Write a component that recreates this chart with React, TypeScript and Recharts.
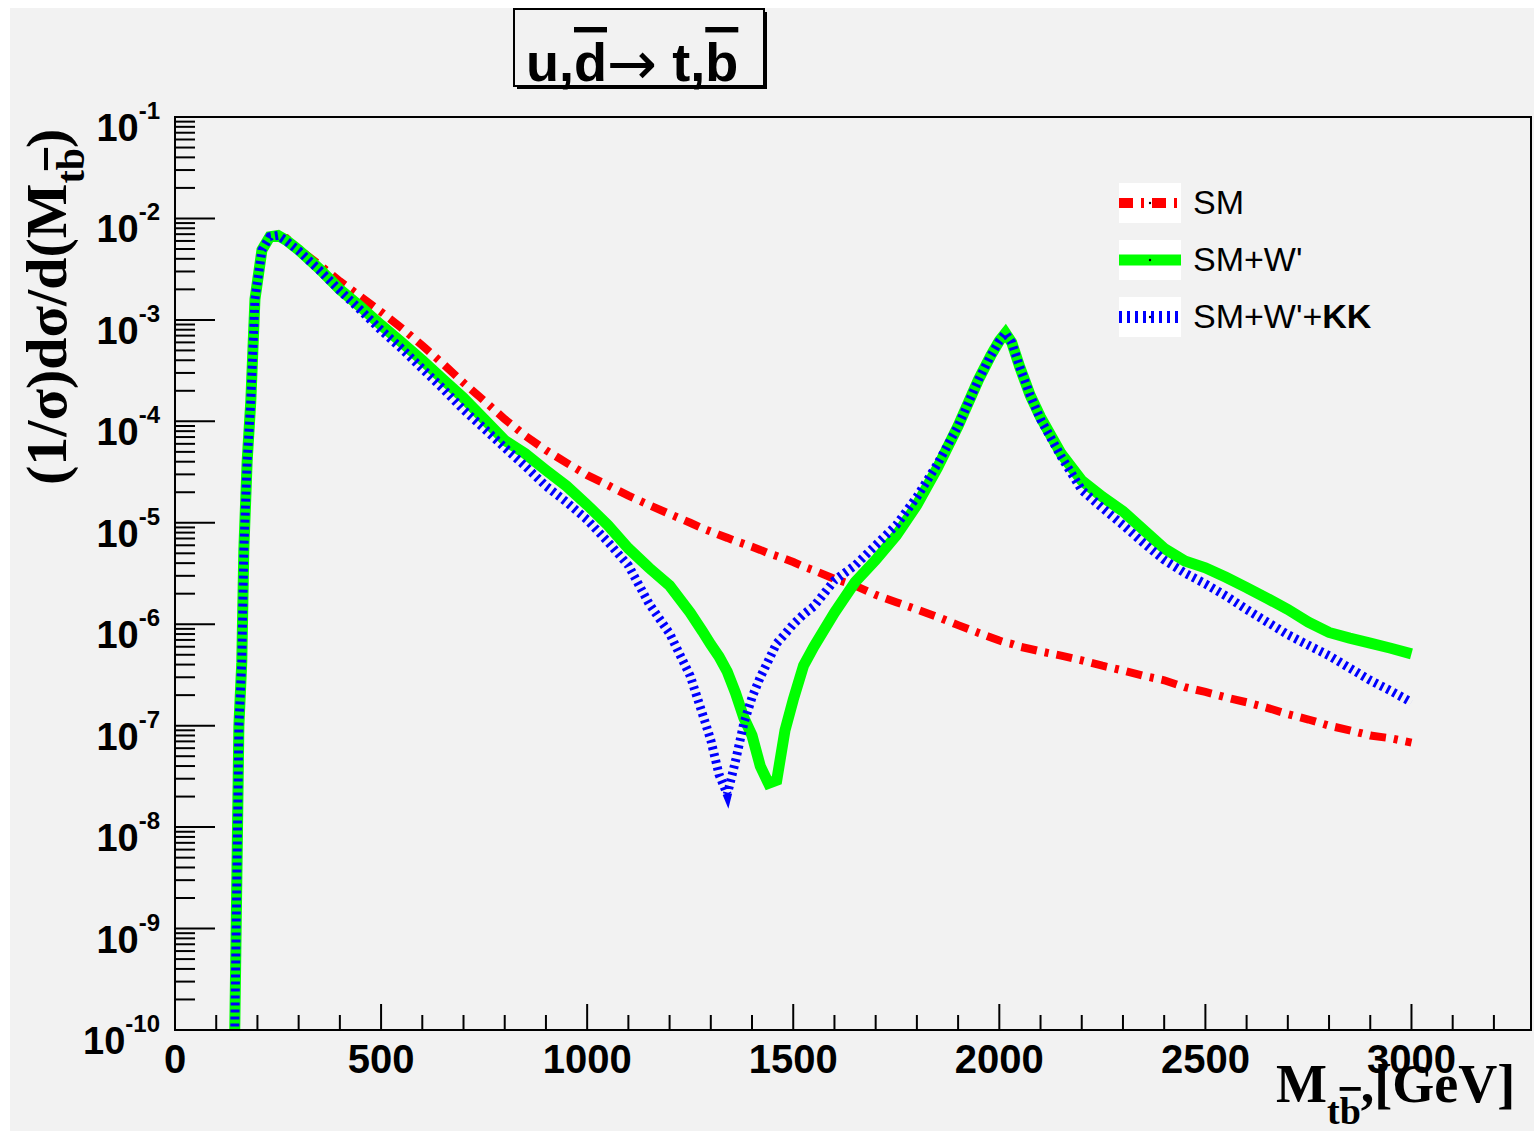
import React from 'react';
import { LineChart, Line, XAxis, YAxis, Legend, ReferenceArea } from 'recharts';

// invariant mass of the t b-bar pair, GeV
const masses = [
  140, 145, 150, 155, 162, 167, 175, 184, 194, 211,
  230, 250, 270, 300, 350, 400, 450, 500, 550, 600,
  650, 700, 750, 800, 850, 900, 950, 1000, 1050, 1100,
  1150, 1200, 1250, 1280, 1300, 1320, 1340, 1360, 1380, 1400,
  1420, 1440, 1460, 1480, 1500, 1525, 1550, 1600, 1650, 1700,
  1750, 1800, 1850, 1900, 1950, 1980, 2000, 2015, 2030, 2050,
  2075, 2100, 2150, 2200, 2250, 2300, 2350, 2400, 2450, 2500,
  2550, 2600, 2650, 2700, 2750, 2800, 2850, 2900, 2950, 3000,
];

const smValues = [
  1e-11, 1e-10, 3e-9, 1.0e-7, 4.2e-7, 5.4e-6, 4e-5, 1.6e-4, 1.6e-3, 4.9e-3,
  6.3e-3, 6.6e-3, 6.4e-3, 5.0e-3, 3.5e-3, 2.4e-3, 1.7e-3, 1.2e-3, 8.3e-4, 5.6e-4,
  3.7e-4, 2.4e-4, 1.6e-4, 1.05e-4, 7.2e-5, 5.2e-5, 3.9e-5, 2.95e-5, 2.35e-5, 1.85e-5,
  1.5e-5, 1.22e-5, 1.0e-5, 8.8e-6, 8.2e-6, 7.6e-6, 7.1e-6, 6.6e-6, 6.2e-6, 5.8e-6,
  5.4e-6, 5.0e-6, 4.7e-6, 4.4e-6, 4.1e-6, 3.7e-6, 3.4e-6, 2.8e-6, 2.4e-6, 1.95e-6,
  1.65e-6, 1.4e-6, 1.18e-6, 9.8e-7, 8.2e-7, 7.4e-7, 6.9e-7, 6.6e-7, 6.4e-7, 6.0e-7,
  5.7e-7, 5.4e-7, 4.9e-7, 4.4e-7, 3.9e-7, 3.5e-7, 3.1e-7, 2.8e-7, 2.4e-7, 2.15e-7,
  1.9e-7, 1.7e-7, 1.5e-7, 1.3e-7, 1.15e-7, 1.0e-7, 9e-8, 8e-8, 7.5e-8, 6.8e-8,
];

const smWValues = [
  1e-11, 1e-10, 3e-9, 1.0e-7, 4.2e-7, 5.4e-6, 4e-5, 1.6e-4, 1.6e-3, 4.9e-3,
  6.6e-3, 6.8e-3, 6.1e-3, 4.9e-3, 3.2e-3, 2.0e-3, 1.35e-3, 8.9e-4, 6.0e-4, 4.0e-4,
  2.6e-4, 1.7e-4, 1.05e-4, 6.5e-5, 4.8e-5, 3.3e-5, 2.3e-5, 1.5e-5, 9.5e-6, 5.6e-6,
  3.6e-6, 2.4e-6, 1.3e-6, 8.5e-7, 6.3e-7, 4.8e-7, 3.4e-7, 2.1e-7, 1.2e-7, 8e-8,
  4.0e-8, 2.7e-8, 2.9e-8, 9.0e-8, 1.8e-7, 3.9e-7, 6e-7, 1.3e-6, 2.6e-6, 4.3e-6,
  7.5e-6, 1.5e-5, 3.5e-5, 9e-5, 2.6e-4, 4.5e-4, 6.2e-4, 7.4e-4, 6.0e-4, 3.4e-4,
  1.8e-4, 1.1e-4, 4.8e-5, 2.6e-5, 1.8e-5, 1.3e-5, 8.5e-6, 5.6e-6, 4.2e-6, 3.6e-6,
  2.9e-6, 2.3e-6, 1.8e-6, 1.4e-6, 1.05e-6, 8.3e-7, 7.3e-7, 6.5e-7, 5.8e-7, 5.1e-7,
];

const smWKKValues = [
  1e-11, 1e-10, 3e-9, 1.0e-7, 4.2e-7, 5.4e-6, 4e-5, 1.6e-4, 1.6e-3, 4.9e-3,
  6.6e-3, 6.8e-3, 6.0e-3, 4.8e-3, 3.1e-3, 1.95e-3, 1.25e-3, 7.9e-4, 5.2e-4, 3.3e-4,
  2.1e-4, 1.3e-4, 8.5e-5, 5.5e-5, 3.6e-5, 2.3e-5, 1.6e-5, 1.07e-5, 6.5e-6, 3.8e-6,
  1.6e-6, 8.1e-7, 3.1e-7, 1.3e-7, 7.2e-8, 3.3e-8, 2.1e-8, 4.5e-8, 1.05e-7, 1.9e-7,
  3.0e-7, 4.4e-7, 6.5e-7, 8e-7, 1.0e-6, 1.25e-6, 1.5e-6, 2.7e-6, 3.8e-6, 6e-6,
  9.5e-6, 1.8e-5, 3.8e-5, 9e-5, 2.6e-4, 4.5e-4, 6.2e-4, 7.4e-4, 6.0e-4, 3.4e-4,
  1.8e-4, 1.05e-4, 4.5e-5, 2.1e-5, 1.4e-5, 9.5e-6, 6.3e-6, 4.3e-6, 3.2e-6, 2.5e-6,
  1.9e-6, 1.4e-6, 1.05e-6, 7.9e-7, 6.2e-7, 4.9e-7, 3.7e-7, 2.8e-7, 2.2e-7, 1.7e-7,
];

const xMajorTicks = [0, 500, 1000, 1500, 2000, 2500, 3000];
const xMinorStep = 100;
const xMax = 3290;
const yExponents = [-10, -9, -8, -7, -6, -5, -4, -3, -2, -1];
const yMinorSteps = [2, 3, 4, 5, 6, 7, 8, 9];

const SANS = "'Liberation Sans', Arial, Helvetica, sans-serif";
const SERIF = "'Liberation Serif', 'Times New Roman', serif";
const BG = '#f2f2f2';

const data = masses.map((m, i) => ({
  mass: m,
  sm: smValues[i],
  smW: smWValues[i],
  smWKK: smWKKValues[i],
}));

const xTicks = Array.from({ length: Math.floor(xMax / xMinorStep) + 1 }, (_, i) => i * xMinorStep);
const yTicks = yExponents.flatMap((e) =>
  e === -1 ? [Math.pow(10, e)] : [Math.pow(10, e), ...yMinorSteps.map((k) => k * Math.pow(10, e))]
);

const XTick = (props: any) => {
  const { x, y, payload } = props;
  const v = payload.value;
  const major = xMajorTicks.includes(v);
  return (
    <g>
      <line x1={x} x2={x} y1={y} y2={y - (major ? 26 : 15)} stroke="#000" strokeWidth={2} />
      {major && (
        <text x={x} y={y + 43} textAnchor="middle" fontFamily={SANS} fontWeight="bold" fontSize={40} fill="#000">
          {v}
        </text>
      )}
    </g>
  );
};

const YTick = (props: any) => {
  const { x, y, payload } = props;
  const lg = Math.log10(payload.value);
  const e = Math.round(lg);
  const major = Math.abs(lg - e) < 1e-6;
  return (
    <g>
      <line x1={x} x2={x + (major ? 40 : 20)} y1={y} y2={y} stroke="#000" strokeWidth={2} />
      {major && (
        <text x={x - 15} y={y + 24} textAnchor="end" fontFamily={SANS} fontWeight="bold" fill="#000">
          <tspan fontSize={38}>10</tspan>
          <tspan fontSize={24} dy={-22}>{e}</tspan>
        </text>
      )}
    </g>
  );
};

const legendItems = [
  { key: 'sm', label: <>SM</>, stroke: '#ff0000', width: 10, dash: '14 8 3 8' },
  { key: 'smW', label: <>SM+W'</>, stroke: '#00ff00', width: 11, dash: undefined },
  { key: 'smWKK', label: <>SM+W'+<b>KK</b></>, stroke: '#0000ff', width: 12, dash: '3 5' },
];

const LegendContent = () => (
  <div style={{ fontFamily: SANS, fontSize: 34, color: '#000' }}>
    {legendItems.map((item) => (
      <div key={item.key} style={{ display: 'flex', alignItems: 'center', height: 57 }}>
        <svg width={62} height={40} style={{ background: '#fff', display: 'block' }}>
          <line x1={0} x2={62} y1={20} y2={20} stroke={item.stroke} strokeWidth={item.width} strokeDasharray={item.dash} />
          <circle cx={31} cy={20} r={1.2} fill="#000" />
        </svg>
        <span style={{ marginLeft: 12 }}>{item.label}</span>
      </div>
    ))}
  </div>
);

const App = () => {
  return (
    <div style={{ position: 'absolute', left: 0, top: 0, width: 1534, height: 1131, background: '#fff' }}>
      <div style={{ position: 'absolute', left: 10, top: 8, width: 1524, height: 1123, background: BG }} />
      <div style={{ position: 'absolute', left: 0, top: 0 }}>
        <LineChart width={1534} height={1131} data={data} margin={{ top: 117, right: 3, bottom: 0, left: 0 }}>
          <XAxis
            dataKey="mass"
            type="number"
            domain={[0, xMax]}
            ticks={xTicks}
            interval={0}
            height={101}
            tickSize={0}
            tickMargin={0}
            tickLine={false}
            axisLine={{ stroke: '#000', strokeWidth: 2 }}
            tick={<XTick />}
          />
          <YAxis
            type="number"
            scale="log"
            domain={[1e-10, 0.1]}
            allowDataOverflow
            ticks={yTicks}
            interval={0}
            width={175}
            tickSize={0}
            tickMargin={0}
            tickLine={false}
            axisLine={{ stroke: '#000', strokeWidth: 2 }}
            tick={<YTick />}
          />
          <Line dataKey="sm" type="linear" stroke="#ff0000" strokeWidth={8} strokeDasharray="16 8 4 8" dot={false} isAnimationActive={false} />
          <Line dataKey="smW" type="linear" stroke="#00ff00" strokeWidth={11} dot={false} isAnimationActive={false} />
          <Line dataKey="smWKK" type="linear" stroke="#0000ff" strokeWidth={9} strokeDasharray="3 4" dot={false} isAnimationActive={false} />
          <ReferenceArea x1={0} x2={xMax} y1={1e-10} y2={0.1} fill="none" stroke="#000" strokeWidth={2} ifOverflow="visible" />
          <Legend
            layout="vertical"
            align="center"
            verticalAlign="middle"
            content={<LegendContent />}
            wrapperStyle={{ left: 1119, top: 174, width: 320 }}
          />
        </LineChart>
      </div>
      <svg width={1534} height={1131} style={{ position: 'absolute', left: 0, top: 0, pointerEvents: 'none' }}>
        <rect x={517} y={12} width={250} height={77} fill="#000" />
        <rect x={514} y={9} width={250} height={77} fill={BG} stroke="#000" strokeWidth={2} />
        <text x={526} y={81} fontFamily={SANS} fontWeight="bold" fontSize={54} fill="#000">
          u,<tspan style={{ textDecoration: 'overline' }}>d</tspan><tspan fontFamily="'DejaVu Sans', sans-serif" fontWeight="normal" fontSize={60} dy={3}>→</tspan><tspan dy={-3}> t,</tspan><tspan style={{ textDecoration: 'overline' }}>b</tspan>
        </text>
        <text transform="translate(66, 485) rotate(-90)" fontFamily={SERIF} fontWeight="bold" fontSize={58} fill="#000">
          (1/σ)dσ/d(M<tspan fontSize={40} dy={18}>t</tspan><tspan fontSize={40} style={{ textDecoration: 'overline' }}>b</tspan><tspan dy={-18}>)</tspan>
        </text>
        <text x={1276} y={1102} fontFamily={SERIF} fontWeight="bold" fontSize={54} fill="#000">
          M<tspan fontSize={38} dy={22}>t</tspan><tspan fontSize={38} style={{ textDecoration: 'overline' }}>b</tspan><tspan dy={-22}>,[GeV]</tspan>
        </text>
      </svg>
    </div>
  );
};

export default App;
